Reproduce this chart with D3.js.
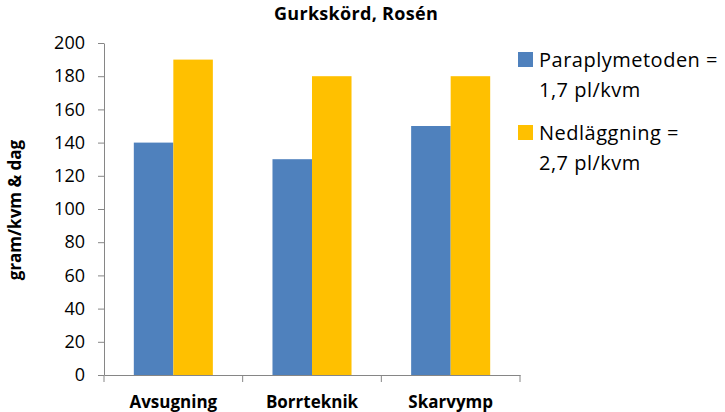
<!DOCTYPE html>
<html><head><meta charset="utf-8">
<script src="https://cdn.jsdelivr.net/npm/d3@7"></script>
<style>body{margin:0;background:#fff;} text{font-family:"Open Sans",sans-serif;}</style>
</head><body>
<svg id="c" width="725" height="412"></svg>
<script>
const categories = ["Avsugning", "Borrteknik", "Skarvymp"];
const seriesNames = ["Paraplymetoden =|1,7 pl/kvm", "Nedläggning =|2,7 pl/kvm"];
const paraplymetoden = [140, 130, 150];
const nedlaggning = [190, 180, 180];
const yTicks = [0, 20, 40, 60, 80, 100, 120, 140, 160, 180, 200];
const colors = ["#4F81BD", "#FFC000"];
const title = "Gurkskörd, Rosén";
const yLabel = "gram/kvm & dag";

const svg = d3.select("#c");
const m = {left: 104, right: 520, top: 43, bottom: 375};
const pad = 0.43;
const x = d3.scaleBand().domain(categories).range([m.left, m.right]).paddingInner(pad).paddingOuter(pad/2);
const series = [paraplymetoden, nedlaggning];
const x1 = d3.scaleBand().domain([0,1]).range([0, x.bandwidth()]);
const y = d3.scaleLinear().domain([0, 200]).range([m.bottom, m.top]);

// bars
series.forEach((vals, si) => {
  svg.append("g").selectAll("rect").data(categories).join("rect")
    .attr("x", c => x(c) + x1(si))
    .attr("width", x1.bandwidth())
    .attr("y", (c, i) => y(vals[i]))
    .attr("height", (c, i) => y(0) - y(vals[i]))
    .attr("fill", colors[si]);
});

// y axis
const ya = svg.append("g").attr("transform", `translate(${m.left},0)`)
  .call(d3.axisLeft(y).tickValues(yTicks).tickSize(6).tickPadding(13).tickSizeOuter(0));
ya.select(".domain").attr("stroke", "#868686");
ya.selectAll(".tick line").attr("stroke", "#868686");
ya.selectAll(".tick text").attr("font-size", 18).attr("fill", "#000").attr("font-family", "Open Sans");

// x axis
const xa = svg.append("g").attr("transform", `translate(0,${m.bottom})`)
  .call(d3.axisBottom(x).tickSize(0).tickPadding(21).tickSizeOuter(0));
xa.select(".domain").attr("stroke", "#868686");
xa.selectAll(".tick text").attr("font-size", 17).attr("font-weight", "bold").attr("fill", "#000").attr("font-family", "Open Sans");
const step = x.step();
const bounds = d3.range(categories.length + 1).map(i => m.left + i * step);
svg.append("g").selectAll("line").data(bounds).join("line")
  .attr("x1", d => d).attr("x2", d => d)
  .attr("y1", m.bottom).attr("y2", m.bottom + 7)
  .attr("stroke", "#868686");

// title
svg.append("text").attr("x", 356).attr("y", 19.5).attr("text-anchor", "middle")
  .attr("font-size", 18).attr("letter-spacing", 0.3).attr("font-weight", "bold").text(title);

// y label
svg.append("text").attr("transform", "translate(21,210) rotate(-90)").attr("text-anchor", "middle")
  .attr("font-size", 17).attr("font-weight", "bold").text(yLabel);

// legend
const leg = svg.append("g");
seriesNames.forEach((nm, i) => {
  const base = 67 + i * 73;
  leg.append("rect").attr("x", 518).attr("y", base - 15).attr("width", 15).attr("height", 15).attr("fill", colors[i]);
  const lines = nm.split("|");
  lines.forEach((ln, j) => {
    leg.append("text").attr("x", 539).attr("y", base + j * 30).attr("font-size", 20)
      .attr("letter-spacing", 0.5).attr("fill", "#000").text(ln);
  });
});
</script>
</body></html>
